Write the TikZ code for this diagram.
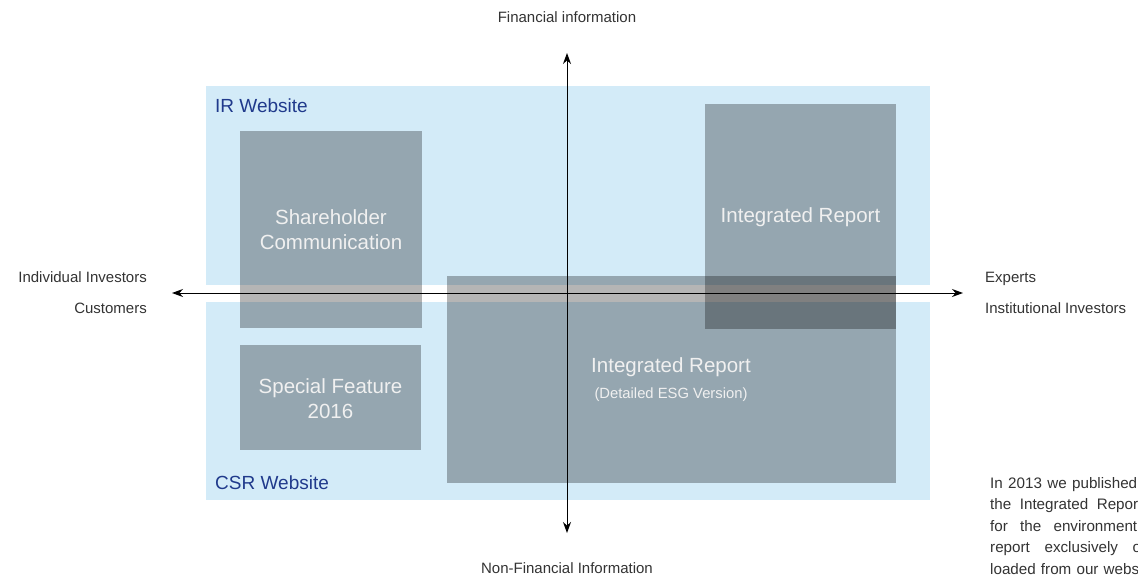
\documentclass[tikz,border=0pt]{standalone}
\usepackage{fontspec}
\setmainfont{Liberation Sans}
\usetikzlibrary{arrows.meta}
\definecolor{siteblue}{RGB}{211,235,248}
\definecolor{boxgray}{RGB}{181,181,181}
\definecolor{sitetext}{RGB}{32,58,140}
\definecolor{lbltext}{RGB}{51,51,51}
\definecolor{boxtext}{RGB}{240,240,240}
\tikzset{
  lbl/.style={font=\fontsize{15}{18}\selectfont,text=lbltext,inner sep=0pt},
  boxlbl/.style={font=\fontsize{20.5}{25}\selectfont,text=boxtext,align=center,inner sep=0pt},
  sitelbl/.style={font=\fontsize{19}{22}\selectfont,text=sitetext,anchor=west,inner sep=0pt},
  axis/.style={line width=1pt,{Stealth[length=11pt,width=8pt]}-{Stealth[length=11pt,width=8pt]}},
  paraline/.style={lbl,font=\fontsize{15.2}{18}\selectfont,anchor=base west}
}
\begin{document}
\begin{tikzpicture}[x=1pt,y=-1pt]
  \useasboundingbox (0,0) rectangle (1138,576);
  %siti
  \fill[siteblue] (206,86) rectangle (930,285);
  \fill[siteblue] (206,302) rectangle (930,500);
  \node[sitelbl] (ir) at (215,106) {IR Website};
  \node[sitelbl] (csr) at (215,483) {CSR Website};
  %riquadri
  \begin{scope}[blend mode=multiply]
    \fill[boxgray] (240,131) rectangle (422,328);
    \fill[boxgray] (240,345) rectangle (421,450);
    \fill[boxgray] (705,104) rectangle (896,329);
    \fill[boxgray] (447,276) rectangle (896,483);
  \end{scope}
  \node[boxlbl] (share) at (331,230) {Shareholder\\Communication};
  \node[boxlbl] (special) at (330.5,399) {Special Feature\\2016};
  \node[boxlbl] (irtop) at (800.5,217) {Integrated Report};
  \node[boxlbl] (irbig) at (671,367) {Integrated Report};
  \node[boxlbl,font=\fontsize{14.8}{17}\selectfont] (esg) at (671,395) {(Detailed ESG Version)};
  %assi
  \coordinate (west) at (172,293);
  \coordinate (east) at (963,293);
  \coordinate (north) at (567,53);
  \coordinate (south) at (567,533);
  \draw[axis] (west) -- (east);
  \draw[axis] (south) -- (north);
  %nomi
  \node[lbl] (fin) at (567,17) {Financial information};
  \node[lbl] (nonfin) at (567,568) {Non-Financial Information};
  \node[lbl,anchor=base east] (indiv) at (147,282.5) {Individual Investors};
  \node[lbl,anchor=base east] (cust) at (147,313.5) {Customers};
  \node[lbl,anchor=base west] (expert) at (985,282.5) {Experts};
  \node[lbl,anchor=base west] (inst) at (985,313.5) {Institutional Investors};
  %testo
  \node[paraline] (p1) at (990,488) {\makebox[147pt][s]{In 2013 we published}};
  \node[paraline] (p2) at (990,509.5) {\makebox[148pt][s]{the Integrated Repor}};
  \node[paraline] (p3) at (990,531) {\makebox[147pt][s]{for the environment}};
  \node[paraline] (p4) at (990,552.5) {\makebox[151pt][s]{report exclusively o}};
  \node[paraline] (p5) at (990,574) {\makebox[149pt][s]{loaded from our webs}};
\end{tikzpicture}
\end{document}
